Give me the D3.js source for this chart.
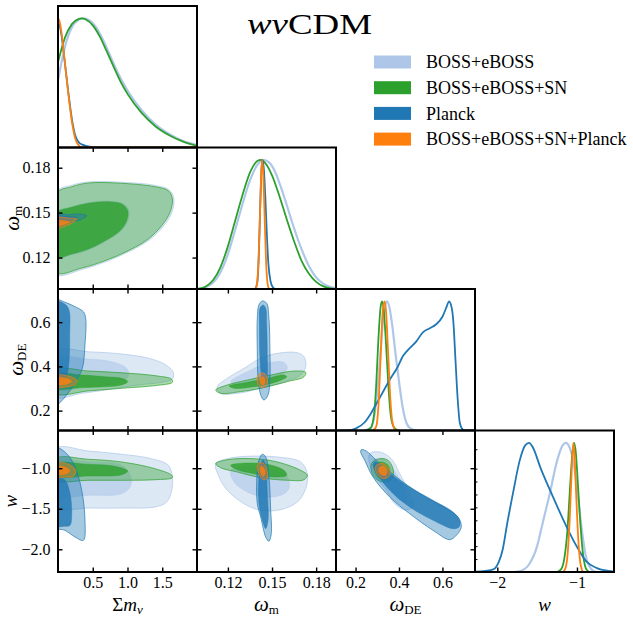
<!DOCTYPE html>
<html><head><meta charset="utf-8">
<script src="https://cdn.jsdelivr.net/npm/d3@7"></script>
<style>body{margin:0;background:#fff}svg{display:block}</style>
</head><body><svg id="c" width="633" height="619"></svg>
<script>
// ---------------- data ----------------
const setNames = ["BOSS+eBOSS","BOSS+eBOSS+SN","Planck","BOSS+eBOSS+SN+Planck"];
const setColors = ["#aec7e8","#2ca02c","#1f77b4","#ff7f0e"];
const paramDomains = [[0,2],[0.099,0.1935],[0.11,0.75],[-2.28,-0.535]];
const mnuTicks = [0.5,1.0,1.5], mnuTickLabels = ["0.5","1.0","1.5"];
const omTicks = [0.12,0.15,0.18], omTickLabels = ["0.12","0.15","0.18"];
const odeTicks = [0.2,0.4,0.6], odeTickLabels = ["0.2","0.4","0.6"];
const wTicksX = [-2,-1], wTickLabelsX = ["−2","−1"];
const wTicksY = [-2.0,-1.5,-1.0], wTickLabelsY = ["−2.0","−1.5","−1.0"];
const wDiagMinor = [0.1,0.2,0.3,0.4,0.5,0.6,0.7,0.8,0.95];

// 1D marginals (normalised to peak 1)
const mnu_LB = [[0,0.52],[0.1,0.78],[0.2,0.93],[0.3,0.99],[0.36,1.0],[0.45,0.985],[0.55,0.93],[0.65,0.83],[0.75,0.71],[0.85,0.59],[1.0,0.44],[1.2,0.29],[1.4,0.18],[1.6,0.105],[1.8,0.05],[2.0,0.02]];
const mnu_SN = [[0,0.66],[0.1,0.85],[0.2,0.955],[0.3,0.995],[0.34,1.0],[0.4,0.99],[0.5,0.945],[0.6,0.86],[0.7,0.745],[0.8,0.625],[0.9,0.51],[1.0,0.415],[1.2,0.27],[1.4,0.165],[1.6,0.095],[1.8,0.045],[2.0,0.012]];
const mnu_Pl = [[0,0.97],[0.02,0.95],[0.05,0.87],[0.1,0.65],[0.15,0.42],[0.2,0.22],[0.25,0.09],[0.3,0.04],[0.35,0.022],[0.4,0.012],[0.5,0.004],[0.6,0.0],[2.0,0.0]];
const mnu_Co = [[0,1.0],[0.02,0.98],[0.05,0.89],[0.1,0.65],[0.15,0.41],[0.2,0.2],[0.25,0.065],[0.3,0.015],[0.35,0.0],[2.0,0.0]];

const om_LB = [[0.099,0],[0.105,0.015],[0.110,0.05],[0.115,0.13],[0.120,0.27],[0.125,0.46],[0.130,0.66],[0.135,0.84],[0.140,0.96],[0.144,1.0],[0.148,0.98],[0.152,0.91],[0.156,0.79],[0.160,0.65],[0.165,0.47],[0.170,0.31],[0.175,0.18],[0.180,0.09],[0.185,0.04],[0.190,0.015],[0.1935,0.005]];
const om_SN = [[0.099,0],[0.105,0.02],[0.110,0.07],[0.115,0.17],[0.120,0.33],[0.125,0.53],[0.130,0.73],[0.135,0.90],[0.140,0.99],[0.1425,1.0],[0.145,0.98],[0.150,0.88],[0.155,0.72],[0.160,0.54],[0.165,0.37],[0.170,0.22],[0.175,0.12],[0.180,0.055],[0.185,0.02],[0.190,0.005],[0.1935,0]];
const om_Pl = [[0.1385,0],[0.1400,0.05],[0.1410,0.25],[0.1420,0.65],[0.1430,0.95],[0.1437,1.0],[0.1445,0.92],[0.1455,0.7],[0.1465,0.42],[0.1475,0.2],[0.1490,0.06],[0.1505,0.015],[0.152,0]];
const om_Co = [[0.1385,0],[0.1395,0.02],[0.1405,0.15],[0.1415,0.45],[0.1425,0.85],[0.1432,1.0],[0.1440,0.9],[0.1450,0.55],[0.1460,0.2],[0.1470,0.04],[0.1480,0.0]];

const ode_LB = [[0.24,0],[0.27,0.02],[0.29,0.15],[0.31,0.5],[0.325,0.82],[0.338,0.98],[0.345,1.0],[0.355,0.96],[0.37,0.8],[0.385,0.58],[0.4,0.38],[0.415,0.2],[0.43,0.08],[0.45,0.02],[0.48,0.0],[0.75,0]];
const ode_SN = [[0.25,0],[0.27,0.02],[0.285,0.12],[0.295,0.35],[0.305,0.7],[0.315,0.95],[0.322,1.0],[0.33,0.93],[0.34,0.68],[0.35,0.38],[0.36,0.15],[0.37,0.05],[0.385,0.01],[0.4,0]];
const ode_Pl = [[0.11,0],[0.16,0.0],[0.2,0.015],[0.24,0.06],[0.27,0.13],[0.3,0.22],[0.33,0.31],[0.36,0.4],[0.39,0.48],[0.42,0.58],[0.44,0.62],[0.48,0.69],[0.51,0.76],[0.54,0.79],[0.57,0.82],[0.6,0.88],[0.62,0.96],[0.63,1.0],[0.64,0.97],[0.65,0.85],[0.66,0.55],[0.67,0.25],[0.68,0.06],[0.69,0.015],[0.7,0],[0.75,0]];
const ode_Co = [[0.28,0],[0.295,0.03],[0.305,0.18],[0.315,0.55],[0.325,0.92],[0.333,1.0],[0.34,0.93],[0.35,0.6],[0.36,0.25],[0.37,0.06],[0.38,0.01],[0.39,0]];

const w_LB = [[-1.8,0],[-1.7,0.01],[-1.6,0.06],[-1.5,0.2],[-1.43,0.38],[-1.34,0.61],[-1.25,0.86],[-1.18,0.98],[-1.14,1.0],[-1.09,0.96],[-1.04,0.84],[-1.0,0.65],[-0.96,0.43],[-0.92,0.24],[-0.88,0.1],[-0.84,0.04],[-0.8,0.01],[-0.75,0]];
const w_SN = [[-1.25,0],[-1.2,0.02],[-1.16,0.1],[-1.12,0.32],[-1.09,0.62],[-1.06,0.9],[-1.037,1.0],[-1.015,0.93],[-0.99,0.7],[-0.96,0.4],[-0.93,0.17],[-0.9,0.05],[-0.87,0.01],[-0.84,0]];
const w_Pl = [[-2.28,0.002],[-2.15,0.008],[-2.05,0.02],[-1.98,0.08],[-1.93,0.18],[-1.88,0.36],[-1.8,0.62],[-1.72,0.86],[-1.65,0.98],[-1.6,1.0],[-1.55,0.96],[-1.46,0.81],[-1.3,0.58],[-1.13,0.35],[-1.0,0.195],[-0.88,0.08],[-0.75,0.03],[-0.6,0.008],[-0.535,0.003]];
const w_Co = [[-1.18,0],[-1.15,0.02],[-1.12,0.12],[-1.09,0.42],[-1.065,0.8],[-1.046,1.0],[-1.03,0.9],[-1.01,0.6],[-0.985,0.27],[-0.96,0.08],[-0.94,0.02],[-0.92,0]];

// 2D contours (outer = 95%, inner = 68%)
const om_mnu_LB_o = [[-0.04,0.1635],[0.197,0.1683],[0.436,0.1705],[0.916,0.1703],[1.396,0.1682],[1.60,0.1652],[1.668,0.1592],[1.635,0.1497],[1.51,0.1405],[1.31,0.1316],[1.015,0.1238],[0.676,0.1170],[0.341,0.1120],[-0.04,0.1088]];
const om_mnu_LB_i = [[-0.04,0.1495],[0.197,0.1540],[0.436,0.1567],[0.676,0.1578],[0.93,0.1562],[1.02,0.1515],[1.005,0.1445],[0.90,0.1375],[0.676,0.1306],[0.436,0.1251],[0.197,0.1218],[-0.04,0.1196]];
const om_mnu_SN_o = [[-0.04,0.1624],[0.197,0.1673],[0.436,0.1698],[0.916,0.1696],[1.396,0.1673],[1.588,0.1646],[1.646,0.1591],[1.612,0.1502],[1.492,0.1413],[1.30,0.1324],[1.012,0.1246],[0.676,0.1179],[0.341,0.1130],[-0.04,0.1101]];
const om_mnu_SN_i = [[-0.04,0.1491],[0.197,0.1536],[0.436,0.1562],[0.676,0.1573],[0.916,0.1558],[1.003,0.1513],[0.988,0.1446],[0.892,0.1379],[0.676,0.1312],[0.436,0.1257],[0.197,0.1224],[-0.04,0.1202]];
const om_mnu_Pl_o = [[-0.04,0.1491],[0.148,0.1486],[0.292,0.1491],[0.413,0.1480],[0.341,0.1457],[0.197,0.1435],[-0.04,0.1402]];
const om_mnu_Pl_i = [[-0.04,0.1480],[0.148,0.1473],[0.269,0.1469],[0.197,0.1451],[-0.04,0.1424]];
const om_mnu_Co_o = [[-0.04,0.1464],[0.148,0.1464],[0.269,0.1457],[0.197,0.1429],[0.053,0.1402],[-0.04,0.1391]];
const om_mnu_Co_i = [[-0.04,0.1444],[0.115,0.1444],[0.173,0.1437],[0.086,0.1420],[-0.04,0.1411]];

const ode_mnu_LB_o = [[-0.04,0.470],[0.436,0.466],[0.916,0.456],[1.30,0.437],[1.54,0.409],[1.659,0.373],[1.645,0.343],[1.492,0.328],[1.156,0.316],[0.676,0.293],[0.341,0.278],[-0.04,0.263]];
const ode_mnu_LB_i = [[-0.04,0.437],[0.436,0.433],[0.772,0.421],[0.988,0.391],[1.012,0.353],[0.82,0.323],[0.436,0.308],[-0.04,0.301]];
const ode_mnu_SN_o = [[-0.04,0.384],[0.436,0.379],[0.916,0.371],[1.396,0.358],[1.636,0.342],[1.645,0.328],[1.396,0.313],[0.916,0.301],[0.436,0.289],[-0.04,0.278]];
const ode_mnu_SN_i = [[-0.04,0.364],[0.341,0.361],[0.676,0.353],[0.916,0.346],[1.003,0.331],[0.916,0.316],[0.676,0.308],[0.341,0.304],[-0.04,0.301]];
const ode_mnu_Pl_o = [[-0.04,0.700],[0.101,0.690],[0.245,0.670],[0.365,0.647],[0.398,0.617],[0.388,0.497],[0.350,0.391],[0.254,0.331],[0.125,0.271],[-0.04,0.225]];
const ode_mnu_Pl_i = [[-0.04,0.693],[0.101,0.681],[0.158,0.655],[0.168,0.542],[0.158,0.421],[0.125,0.361],[0.053,0.338],[-0.04,0.331]];
const ode_mnu_Co_o = [[-0.04,0.358],[0.148,0.356],[0.269,0.338],[0.245,0.319],[0.125,0.308],[-0.04,0.308]];
const ode_mnu_Co_i = [[-0.04,0.349],[0.125,0.346],[0.197,0.334],[0.148,0.322],[-0.04,0.319]];

const w_mnu_LB_o = [[-0.04,-0.759],[0.436,-0.788],[0.916,-0.828],[1.348,-0.883],[1.588,-0.964],[1.645,-1.108],[1.636,-1.272],[1.564,-1.417],[1.396,-1.478],[0.916,-1.491],[0.436,-1.491],[-0.04,-1.478]];
const w_mnu_LB_i = [[-0.04,-0.902],[0.436,-0.923],[0.916,-0.964],[1.05,-1.108],[1.036,-1.232],[0.916,-1.314],[0.436,-1.334],[-0.04,-1.334]];
const w_mnu_SN_o = [[-0.04,-0.883],[0.436,-0.890],[0.916,-0.923],[1.396,-1.006],[1.636,-1.087],[1.645,-1.117],[1.396,-1.142],[0.916,-1.149],[0.436,-1.149],[-0.04,-1.142]];
const w_mnu_SN_i = [[-0.04,-0.944],[0.436,-0.952],[0.82,-0.976],[1.003,-1.034],[0.916,-1.080],[0.436,-1.096],[-0.04,-1.096]];
const w_mnu_Pl_o = [[-0.04,-0.747],[0.125,-0.821],[0.245,-0.985],[0.341,-1.272],[0.388,-1.642],[0.365,-1.889],[0.245,-1.848],[0.101,-1.766],[-0.04,-1.725]];
const w_mnu_Pl_i = [[-0.04,-1.108],[0.101,-1.149],[0.173,-1.314],[0.197,-1.561],[0.173,-1.704],[0.101,-1.716],[-0.04,-1.704]];
const w_mnu_Co_o = [[-0.04,-0.936],[0.148,-0.952],[0.254,-1.026],[0.22,-1.100],[0.101,-1.108],[-0.04,-1.108]];
const w_mnu_Co_i = [[-0.04,-0.976],[0.125,-0.994],[0.173,-1.034],[0.125,-1.067],[-0.04,-1.067]];

const ode_om_LB_o = [[0.1128,0.308],[0.1196,0.346],[0.1310,0.391],[0.1423,0.437],[0.1536,0.459],[0.1672,0.462],[0.1717,0.444],[0.1729,0.399],[0.1695,0.361],[0.1581,0.331],[0.1423,0.301],[0.1264,0.278],[0.1151,0.278]];
const ode_om_LB_i = [[0.1219,0.331],[0.1332,0.376],[0.1468,0.414],[0.1581,0.418],[0.1604,0.391],[0.1559,0.361],[0.1423,0.331],[0.1287,0.316]];
const ode_om_SN_o = [[0.1117,0.293],[0.1196,0.316],[0.1332,0.338],[0.1491,0.361],[0.1649,0.379],[0.1729,0.373],[0.1717,0.353],[0.1604,0.331],[0.1423,0.301],[0.1287,0.286],[0.1151,0.278]];
const ode_om_SN_i = [[0.1208,0.311],[0.1332,0.328],[0.1468,0.346],[0.1581,0.361],[0.1600,0.353],[0.1536,0.331],[0.1377,0.308],[0.1242,0.301]];
const ode_om_Pl_o = [[0.1411,0.678],[0.1434,0.696],[0.1464,0.685],[0.1479,0.617],[0.1486,0.466],[0.1486,0.346],[0.1473,0.271],[0.1445,0.248],[0.1423,0.271],[0.1405,0.346],[0.1400,0.466],[0.1400,0.617]];
const ode_om_Pl_i = [[0.1418,0.663],[0.1439,0.678],[0.1457,0.663],[0.1464,0.587],[0.1468,0.437],[0.1464,0.346],[0.1439,0.316],[0.1430,0.346],[0.1418,0.437],[0.1414,0.587]];
const ode_om_Co_o = [[0.1411,0.364],[0.1445,0.369],[0.1468,0.346],[0.1464,0.316],[0.1434,0.304],[0.1405,0.319],[0.1400,0.346]];
const ode_om_Co_i = [[0.1423,0.349],[0.1445,0.352],[0.1454,0.331],[0.1439,0.316],[0.1421,0.328]];

const w_om_LB_o = [[0.1117,-0.944],[0.1196,-0.883],[0.1332,-0.853],[0.1536,-0.862],[0.1695,-0.923],[0.1740,-1.067],[0.1729,-1.252],[0.1672,-1.417],[0.1559,-1.511],[0.1423,-1.519],[0.1310,-1.438],[0.1196,-1.272],[0.1140,-1.108]];
const w_om_LB_i = [[0.1219,-1.026],[0.1310,-0.985],[0.1468,-1.006],[0.1604,-1.108],[0.1615,-1.252],[0.1559,-1.334],[0.1445,-1.355],[0.1332,-1.293],[0.1242,-1.170]];
const w_om_SN_o = [[0.1117,-0.944],[0.1196,-0.895],[0.1377,-0.883],[0.1536,-0.923],[0.1695,-1.026],[0.1740,-1.087],[0.1717,-1.142],[0.1604,-1.149],[0.1423,-1.117],[0.1264,-1.047],[0.1151,-0.994]];
const w_om_SN_i = [[0.1219,-0.964],[0.1332,-0.936],[0.1468,-0.952],[0.1581,-1.026],[0.1600,-1.087],[0.1514,-1.108],[0.1377,-1.067],[0.1264,-1.018]];
const w_om_Pl_o = [[0.1434,-0.828],[0.1457,-0.862],[0.1479,-1.108],[0.1491,-1.519],[0.1495,-1.807],[0.1479,-1.901],[0.1457,-1.848],[0.1423,-1.602],[0.1400,-1.438],[0.1396,-1.149],[0.1411,-0.902]];
const w_om_Pl_i = [[0.1441,-0.902],[0.1457,-0.985],[0.1468,-1.314],[0.1473,-1.642],[0.1457,-1.746],[0.1434,-1.642],[0.1411,-1.438],[0.1411,-1.108],[0.1423,-0.944]];
const w_om_Co_o = [[0.1411,-0.936],[0.1445,-0.944],[0.1468,-1.047],[0.1464,-1.129],[0.1441,-1.142],[0.1411,-1.067],[0.1400,-0.985]];
const w_om_Co_i = [[0.1423,-0.976],[0.1445,-0.994],[0.1454,-1.067],[0.1439,-1.100],[0.1421,-1.047]];

const w_ode_LB_o = [[0.2652,-0.821],[0.3112,-0.800],[0.3646,-0.883],[0.4033,-1.067],[0.4493,-1.314],[0.4645,-1.478],[0.4263,-1.511],[0.3803,-1.438],[0.3416,-1.272],[0.2955,-1.108],[0.2652,-0.944]];
const w_ode_LB_i = [[0.2804,-0.902],[0.3264,-0.883],[0.3724,-1.006],[0.4263,-1.252],[0.4339,-1.417],[0.4033,-1.396],[0.3572,-1.232],[0.3112,-1.067]];
const w_ode_SN_o = [[0.2727,-0.944],[0.3112,-0.883],[0.3494,-0.902],[0.3724,-1.006],[0.3692,-1.129],[0.3416,-1.170],[0.3034,-1.149],[0.2771,-1.067]];
const w_ode_SN_i = [[0.2882,-0.952],[0.3186,-0.923],[0.3494,-0.964],[0.3600,-1.047],[0.3494,-1.129],[0.3186,-1.137],[0.2928,-1.067]];
const w_ode_Pl_o = [[0.2265,-0.772],[0.2495,-0.788],[0.2955,-0.902],[0.3876,-1.108],[0.4954,-1.314],[0.6178,-1.499],[0.6717,-1.602],[0.6869,-1.725],[0.6639,-1.827],[0.6335,-1.881],[0.5566,-1.766],[0.4493,-1.561],[0.3572,-1.355],[0.2804,-1.108],[0.2421,-0.902],[0.2237,-0.800]];
const w_ode_Pl_i = [[0.2882,-0.923],[0.3572,-1.067],[0.4493,-1.232],[0.5566,-1.396],[0.6487,-1.540],[0.6795,-1.642],[0.6763,-1.725],[0.6487,-1.746],[0.5566,-1.642],[0.4493,-1.478],[0.3572,-1.272],[0.3034,-1.087],[0.2804,-0.964]];
const w_ode_Co_o = [[0.2955,-0.964],[0.3264,-0.944],[0.3540,-1.006],[0.3572,-1.087],[0.3342,-1.129],[0.3080,-1.100],[0.2928,-1.026]];
const w_ode_Co_i = [[0.3112,-0.985],[0.3296,-0.976],[0.3448,-1.034],[0.3388,-1.087],[0.3186,-1.080],[0.3066,-1.034]];

// ---------------- tables built from the arrays ----------------
const diag1D = [
  [mnu_LB, mnu_SN, mnu_Pl, mnu_Co],
  [om_LB, om_SN, om_Pl, om_Co],
  [ode_LB, ode_SN, ode_Pl, ode_Co],
  [w_LB, w_SN, w_Pl, w_Co]
];
const pairs = {
  "1,0": [[om_mnu_LB_o,om_mnu_LB_i],[om_mnu_SN_o,om_mnu_SN_i],[om_mnu_Pl_o,om_mnu_Pl_i],[om_mnu_Co_o,om_mnu_Co_i]],
  "2,0": [[ode_mnu_LB_o,ode_mnu_LB_i],[ode_mnu_SN_o,ode_mnu_SN_i],[ode_mnu_Pl_o,ode_mnu_Pl_i],[ode_mnu_Co_o,ode_mnu_Co_i]],
  "3,0": [[w_mnu_LB_o,w_mnu_LB_i],[w_mnu_SN_o,w_mnu_SN_i],[w_mnu_Pl_o,w_mnu_Pl_i],[w_mnu_Co_o,w_mnu_Co_i]],
  "2,1": [[ode_om_LB_o,ode_om_LB_i],[ode_om_SN_o,ode_om_SN_i],[ode_om_Pl_o,ode_om_Pl_i],[ode_om_Co_o,ode_om_Co_i]],
  "3,1": [[w_om_LB_o,w_om_LB_i],[w_om_SN_o,w_om_SN_i],[w_om_Pl_o,w_om_Pl_i],[w_om_Co_o,w_om_Co_i]],
  "3,2": [[w_ode_LB_o,w_ode_LB_i],[w_ode_SN_o,w_ode_SN_i],[w_ode_Pl_o,w_ode_Pl_i],[w_ode_Co_o,w_ode_Co_i]]
};
const xTicks = [mnuTicks, omTicks, odeTicks, wTicksX];
const xTickLabels = [mnuTickLabels, omTickLabels, odeTickLabels, wTickLabelsX];
const yTicks = [null, omTicks, odeTicks, wTicksY];
const yTickLabels = [null, omTickLabels, odeTickLabels, wTickLabelsY];

// ---------------- layout ----------------
const FONT = "'Liberation Serif', 'Times New Roman', Times, 'DejaVu Serif', 'Noto Serif', serif";
const colX = [58,197,336,475], colW = 139;
const rowY = [6,147.5,289,430.5], rowH = 141.5;
const TL = 4.5;

const svg = d3.select("#c").attr("font-family", FONT);
const defs = svg.append("defs");
const xs = paramDomains.map((d,i)=>d3.scaleLinear().domain(d).range([colX[i], colX[i]+colW]));
const ys = paramDomains.map((d,j)=>d3.scaleLinear().domain(d).range([rowY[j]+rowH, rowY[j]]));
const dens = [0,1,2,3].map(j=>d3.scaleLinear().domain([0,1.095]).range([rowY[j]+rowH, rowY[j]]));

function clipFor(r,c){
  const id = `clip${r}${c}`;
  defs.append("clipPath").attr("id",id).append("rect")
    .attr("x",colX[c]).attr("y",rowY[r]).attr("width",colW).attr("height",rowH);
  return `url(#${id})`;
}
function styleAxis(g){
  g.attr("font-family", FONT).attr("font-size", 16);
  g.select(".domain").remove();
  g.selectAll(".tick line").attr("stroke","#000").attr("stroke-width",1.4);
  g.selectAll(".tick text").attr("font-family", FONT).attr("font-size",16).attr("fill","#000");
}
function txt(sel){ return sel.attr("font-family", FONT).attr("fill","#000"); }

// diagonal panels
for (let i=0;i<4;i++){
  const g = svg.append("g").attr("clip-path", clipFor(i,i));
  const line = d3.line().x(d=>xs[i](d[0])).y(d=>dens[i](d[1])).curve(d3.curveMonotoneX);
  diag1D[i].forEach((arr,k)=>{
    g.append("path").attr("d", line(arr)).attr("fill","none")
      .attr("stroke", setColors[k]).attr("stroke-width", k===0?2.2:1.8);
  });
}

// off-diagonal panels
for (const key of Object.keys(pairs)){
  const [r,c] = key.split(",").map(Number);
  const g = svg.append("g").attr("clip-path", clipFor(r,c));
  const line = d3.line().x(d=>xs[c](d[0])).y(d=>ys[r](d[1])).curve(d3.curveCatmullRomClosed.alpha(0.5));
  pairs[key].forEach(([outer, inner],k)=>{
    g.append("path").attr("d", line(outer)).attr("fill", setColors[k]).attr("fill-opacity", k===0?0.42:0.4)
      .attr("stroke", setColors[k]).attr("stroke-opacity", 0.7).attr("stroke-width", 1);
    g.append("path").attr("d", line(inner)).attr("fill", setColors[k]).attr("fill-opacity", k===0?0.6:0.8)
      .attr("stroke", setColors[k]).attr("stroke-opacity", 0.5).attr("stroke-width", 0.8);
  });
}

// ticks on off-diagonal panels (inward, all sides)
for (const key of Object.keys(pairs)){
  const [r,c] = key.split(",").map(Number);
  const bottom = rowY[r]+rowH, top = rowY[r], left = colX[c], right = colX[c]+colW;
  const fmtX = d => xTickLabels[c][xTicks[c].indexOf(d)];
  const fmtY = d => yTickLabels[r][yTicks[r].indexOf(d)];
  svg.append("g").attr("transform",`translate(0,${bottom})`)
    .call(d3.axisBottom(xs[c]).tickValues(xTicks[c]).tickSize(-TL).tickPadding(4.8).tickFormat(r===3?fmtX:""))
    .call(styleAxis);
  svg.append("g").attr("transform",`translate(0,${top})`)
    .call(d3.axisTop(xs[c]).tickValues(xTicks[c]).tickSize(-TL).tickFormat("")).call(styleAxis);
  svg.append("g").attr("transform",`translate(${left},0)`)
    .call(d3.axisLeft(ys[r]).tickValues(yTicks[r]).tickSize(-TL).tickPadding(7.5).tickFormat(c===0?fmtY:""))
    .call(styleAxis);
  svg.append("g").attr("transform",`translate(${right},0)`)
    .call(d3.axisRight(ys[r]).tickValues(yTicks[r]).tickSize(-TL).tickFormat("")).call(styleAxis);
}
// bottom-right diagonal: x ticks with labels, small left ticks
svg.append("g").attr("transform",`translate(0,${rowY[3]+rowH})`)
  .call(d3.axisBottom(xs[3]).tickValues(wTicksX).tickSize(-TL).tickPadding(4.8).tickFormat(d=>wTickLabelsX[wTicksX.indexOf(d)]))
  .call(styleAxis);
svg.append("g").attr("transform",`translate(${colX[3]},0)`)
  .call(d3.axisLeft(dens[3]).tickValues(wDiagMinor).tickSize(-2.5).tickFormat("")).call(styleAxis)
  .call(g=>g.selectAll(".tick line").attr("stroke-width",1));

// frames
const frames = [];
for (let r=0;r<4;r++) for (let c=0;c<=r;c++) frames.push([r,c]);
svg.append("g").selectAll("rect").data(frames).join("rect")
  .attr("x",d=>colX[d[1]]).attr("y",d=>rowY[d[0]]).attr("width",colW).attr("height",rowH)
  .attr("fill","none").attr("stroke","#000").attr("stroke-width",2);

// axis labels (bottom)
const xl = svg.append("g").attr("font-size",19);
const xlY = 611;
let t = txt(xl.append("text")).attr("x",colX[0]+colW/2).attr("y",xlY).attr("text-anchor","middle");
t.append("tspan").text("Σ"); t.append("tspan").attr("font-style","italic").text("m");
t.append("tspan").attr("font-style","italic").attr("font-size",13).attr("dy",3).text("ν");
t = txt(xl.append("text")).attr("x",colX[1]+colW/2).attr("y",xlY).attr("text-anchor","middle");
t.append("tspan").attr("font-style","italic").attr("font-size",21).text("ω"); t.append("tspan").attr("font-size",13).attr("dy",3).text("m");
t = txt(xl.append("text")).attr("x",colX[2]+colW/2).attr("y",xlY).attr("text-anchor","middle");
t.append("tspan").attr("font-style","italic").attr("font-size",21).text("ω"); t.append("tspan").attr("font-size",13).attr("dy",3).text("DE");
t = txt(xl.append("text")).attr("x",colX[3]+colW/2).attr("y",xlY).attr("text-anchor","middle");
t.append("tspan").attr("font-style","italic").text("w");

// axis labels (left, rotated)
const ylX = [0, 18.5, 23, 16.5];
function ylab(r){
  return txt(svg.append("text")).attr("font-size",19).attr("text-anchor","middle")
    .attr("transform",`translate(${ylX[r]},${rowY[r]+rowH/2}) rotate(-90)`);
}
t = ylab(1); t.append("tspan").attr("font-style","italic").attr("font-size",21).text("ω"); t.append("tspan").attr("font-size",13).attr("dy",3).text("m");
t = ylab(2); t.append("tspan").attr("font-style","italic").attr("font-size",21).text("ω"); t.append("tspan").attr("font-size",13).attr("dy",3).text("DE");
t = ylab(3); t.append("tspan").attr("font-style","italic").text("w");

// title
t = txt(svg.append("text")).attr("x",309.5).attr("y",33.5).attr("text-anchor","middle").attr("font-size",30)
  .attr("textLength",125).attr("lengthAdjust","spacingAndGlyphs");
t.append("tspan").attr("font-style","italic").text("wν");
t.append("tspan").text("CDM");

// legend
const lg = svg.append("g").selectAll("g").data(setNames).join("g")
  .attr("transform",(d,i)=>`translate(374,${62 + i*25.7})`);
lg.append("rect").attr("x",0).attr("y",-6.5).attr("width",37).attr("height",13)
  .attr("fill",(d,i)=>setColors[i]);
txt(lg.append("text")).attr("x",52).attr("y",0).attr("dy","0.35em").attr("font-size",18).text(d=>d);
</script></body></html>
